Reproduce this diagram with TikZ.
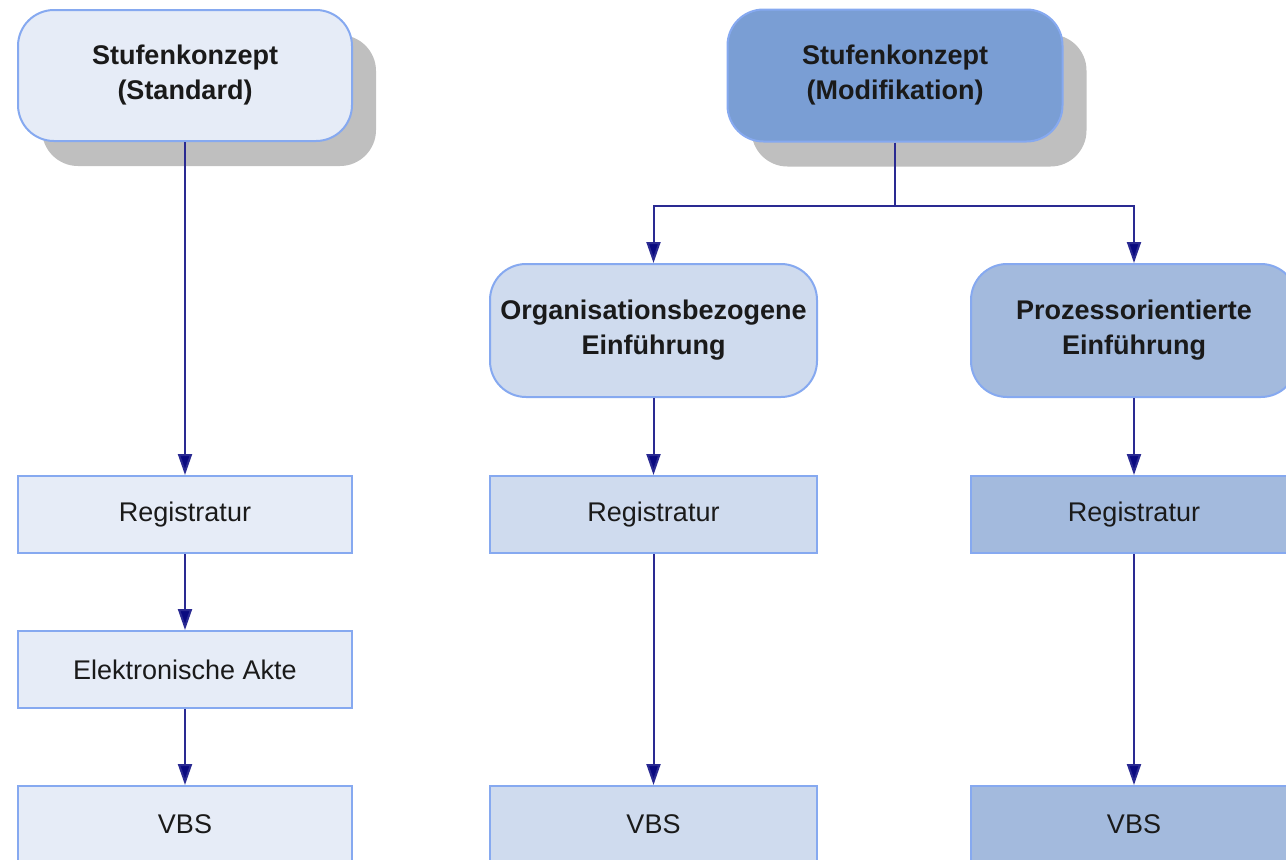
\documentclass[tikz,border=0pt]{standalone}
\usepackage{fontspec}
\setmainfont{Liberation Sans}
\usetikzlibrary{arrows.meta,shadows}
\definecolor{rand}{HTML}{86A9F0}
\definecolor{pfeil}{HTML}{2A2A92}
\definecolor{spitze}{HTML}{0A0A80}
\definecolor{schrift}{HTML}{1A1A1A}
\definecolor{schatten}{HTML}{BFBFBF}
\definecolor{hellblau}{HTML}{E6ECF7}
\definecolor{mittelblau}{HTML}{CFDBEE}
\definecolor{blau}{HTML}{A3BADD}
\definecolor{dunkelblau}{HTML}{7A9ED4}
\tikzset{
  stufe/.style={draw=rand, line width=2pt, rounded corners=36pt, align=center,
    inner sep=2pt, text=schrift, font=\fontsize{27}{35}\selectfont\bfseries},
  kasten/.style={draw=rand, line width=2pt, align=center, inner sep=2pt,
    minimum height=77pt, text=schrift, font=\fontsize{27}{34}\selectfont},
  schattig/.style={drop shadow={shadow xshift=24pt, shadow yshift=-25pt,
    fill=schatten, opacity=1}},
  pfeil/.style={draw=pfeil, line width=2pt,
    -{Triangle[width=14pt,length=21pt,fill=spitze]}},
  linie/.style={draw=pfeil, line width=2pt}
}
\begin{document}
\begin{tikzpicture}[x=1pt,y=-1pt]
\clip (0,0) rectangle (1286,860);
\useasboundingbox (0,0) rectangle (1286,860);
\node[stufe, schattig, fill=hellblau, minimum width=334pt, minimum height=131pt]
  (standard) at (185,75.5) {Stufenkonzept\\(Standard)};
\node[stufe, schattig, fill=dunkelblau, minimum width=335pt, minimum height=132pt]
  (modifikation) at (895,75.5) {Stufenkonzept\\(Modifikation)};
\node[stufe, fill=mittelblau, minimum width=327pt, minimum height=133pt]
  (organisation) at (653.5,330.5) {Organisationsbezogene\\Einführung};
\node[stufe, fill=blau, minimum width=326pt, minimum height=133pt]
  (prozess) at (1134,330.5) {Prozessorientierte\\Einführung};
\node[kasten, fill=hellblau, minimum width=334pt] (reg1) at (185,514.5) {Registratur};
\node[kasten, fill=mittelblau, minimum width=327pt] (reg2) at (653.5,514.5) {Registratur};
\node[kasten, fill=blau, minimum width=326pt] (reg3) at (1134,514.5) {Registratur};
\node[kasten, fill=hellblau, minimum width=334pt] (akte) at (185,669.5) {Elektronische Akte};
\node[kasten, fill=hellblau, minimum width=334pt] (vbs1) at (185,824.5) {VBS};
\node[kasten, fill=mittelblau, minimum width=327pt] (vbs2) at (653.5,824.5) {VBS};
\node[kasten, fill=blau, minimum width=326pt] (vbs3) at (1134,824.5) {VBS};
\coordinate (gabel) at (895,206);
\draw[pfeil] (standard) -- (reg1);
\draw[pfeil] (reg1) -- (akte);
\draw[pfeil] (akte) -- (vbs1);
\draw[linie] (modifikation) -- (gabel);
\draw[pfeil] (gabel) -| (organisation);
\draw[pfeil] (gabel) -| (prozess);
\draw[pfeil] (organisation) -- (reg2);
\draw[pfeil] (reg2) -- (vbs2);
\draw[pfeil] (prozess) -- (reg3);
\draw[pfeil] (reg3) -- (vbs3);
\end{tikzpicture}
\end{document}
